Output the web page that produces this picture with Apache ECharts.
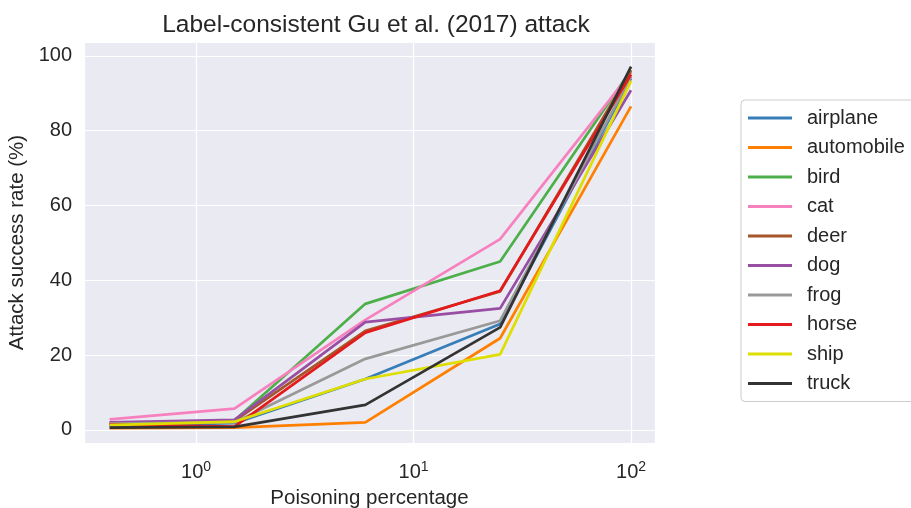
<!DOCTYPE html>
<html><head><meta charset="utf-8">
<script src="https://cdn.jsdelivr.net/npm/echarts@6/dist/echarts.min.js"></script>
<style>html,body{margin:0;padding:0;background:#fff}#c{width:911px;height:508px}</style>
</head><body><div id="c"></div>
<script>
const poisonPct = [0.4, 1.5, 6, 25, 100];
const classes = ['airplane','automobile','bird','cat','deer','dog','frog','horse','ship','truck'];
const airplane   = [1.0, 1.8, 13.6, 28.3, 94.0];
const automobile = [0.5, 0.6, 2.0, 24.5, 86.5];
const bird       = [1.6, 2.5, 33.7, 45.0, 96.2];
const cat        = [2.8, 5.7, 29.4, 51.0, 95.5];
const deer       = [1.8, 2.4, 26.5, 37.0, 96.0];
const dog        = [2.0, 2.7, 28.8, 32.5, 90.8];
const frog       = [1.7, 2.0, 19.0, 29.2, 94.5];
const horse      = [1.4, 0.9, 26.0, 37.2, 95.0];
const ship       = [1.3, 2.2, 13.6, 20.2, 93.3];
const truck      = [0.6, 0.8, 6.7, 27.4, 97.1];
const seriesValues = [airplane, automobile, bird, cat, deer, dog, frog, horse, ship, truck];
const colors = ['#377eb8','#ff7f00','#4daf4a','#f781bf','#a65628','#984ea3','#999999','#e41a1c','#dede00','#333333'];

const txt = '#262626';
const font = 'Liberation Sans, Arial, sans-serif';
const chart = echarts.init(document.getElementById('c'), null, {renderer:'canvas'});
chart.setOption({
  animation: false,
  backgroundColor: '#ffffff',
  textStyle: {fontFamily: font, color: txt},
  title: {
    text: 'Label-consistent Gu et al. (2017) attack',
    left: 371, top: 8, textAlign: 'center',
    textStyle: {fontFamily: font, fontSize: 24.5, fontWeight: 'normal', color: txt}
  },
  grid: {left: 84, top: 42, right: 256, bottom: 65, show: true, backgroundColor: '#eaeaf2', borderWidth: 0, containLabel: false, outerBoundsMode: 'none'},
  legend: {
    orient: 'vertical', left: 741, top: 100,
    data: classes, icon: 'rect', itemWidth: 44, itemHeight: 3, itemGap: 9.5,
    padding: [8, 30, 8, 7],
    backgroundColor: '#ffffff', borderColor: '#cccccc', borderWidth: 1, borderRadius: 4,
    textStyle: {fontFamily: font, fontSize: 20, color: txt, padding: [0,0,0,10]}
  },
  xAxis: {
    type: 'log', logBase: 10, min: 0.305, max: 128.9,
    name: 'Poisoning percentage', nameLocation: 'middle', nameGap: 44,
    nameTextStyle: {fontFamily: font, fontSize: 20.5, color: txt},
    axisLine: {show: false}, axisTick: {show: false},
    splitLine: {show: true, lineStyle: {color: '#ffffff', width: 1.2}},
    minorSplitLine: {show: false},
    axisLabel: {
      showMinLabel: false, showMaxLabel: false, margin: 17,
      formatter: v => '{b|10}{s|' + Math.round(Math.log10(v)) + '}',
      rich: {
        b: {fontFamily: font, fontSize: 20, color: txt},
        s: {fontFamily: font, fontSize: 14, color: txt, padding: [0,0,11,0]}
      }
    }
  },
  yAxis: {
    type: 'value', min: -3.5, max: 103.7, splitNumber: 5,
    name: 'Attack success rate (%)', nameLocation: 'middle', nameGap: 45,
    nameTextStyle: {fontFamily: font, fontSize: 20.5, color: txt},
    axisLine: {show: false}, axisTick: {show: false},
    splitLine: {show: true, lineStyle: {color: '#ffffff', width: 1.2}},
    axisLabel: {showMinLabel: false, showMaxLabel: false, fontFamily: font, fontSize: 20, color: txt, margin: 12}
  },
  series: classes.map((name, i) => ({
    name, type: 'line', showSymbol: false, symbol: 'none',
    data: poisonPct.map((x, j) => [x, seriesValues[i][j]]),
    lineStyle: {color: colors[i], width: 2.7},
    itemStyle: {color: colors[i]},
    z: 2 + i
  }))
});
</script></body></html>
